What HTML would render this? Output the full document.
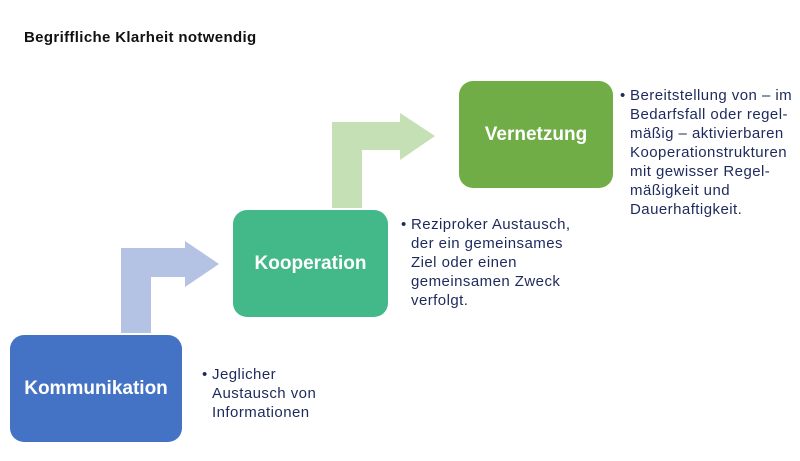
<!DOCTYPE html>
<html><head><meta charset="utf-8"><style>
body{margin:0;width:800px;height:461px;background:#fff;position:relative;overflow:hidden;font-family:"Liberation Sans",sans-serif}
.t{position:absolute;left:24px;top:29px;font-weight:bold;font-size:15px;letter-spacing:0.35px;color:#111}
.box{position:absolute;border-radius:14px;color:#fff;font-weight:bold;font-size:19px;display:flex;align-items:center;justify-content:center}
.txt{position:absolute;font-size:15px;letter-spacing:0.45px;line-height:19px;color:#1e2a5c;white-space:nowrap}
.txt:before{content:"•";position:absolute;left:-10px}
</style></head><body>
<div class="t">Begriffliche Klarheit notwendig</div>
<svg width="800" height="461" style="position:absolute;left:0;top:0">
<polygon points="121,333 121,248 185,248 185,241 219,264 185,287 185,277 151,277 151,333" fill="#b4c3e3"/>
<polygon points="332,208 332,122 400,122 400,113 435,136 400,160 400,150 362,150 362,208" fill="#c5e0b4"/>
</svg>
<div class="box" style="left:10px;top:335px;width:172px;height:107px;background:#4472c4">Kommunikation</div>
<div class="box" style="left:233px;top:210px;width:155px;height:107px;background:#43b98a">Kooperation</div>
<div class="box" style="left:459px;top:81px;width:154px;height:107px;background:#70ad47">Vernetzung</div>
<div class="txt" style="left:212px;top:365px">Jeglicher<br>Austausch von<br>Informationen</div>
<div class="txt" style="left:411px;top:215px">Reziproker Austausch,<br>der ein gemeinsames<br>Ziel oder einen<br>gemeinsamen Zweck<br>verfolgt.</div>
<div class="txt" style="left:630px;top:86px">Bereitstellung von – im<br>Bedarfsfall oder regel-<br>mäßig – aktivierbaren<br>Kooperationstrukturen<br>mit gewisser Regel-<br>mäßigkeit und<br>Dauerhaftigkeit.</div>
</body></html>
